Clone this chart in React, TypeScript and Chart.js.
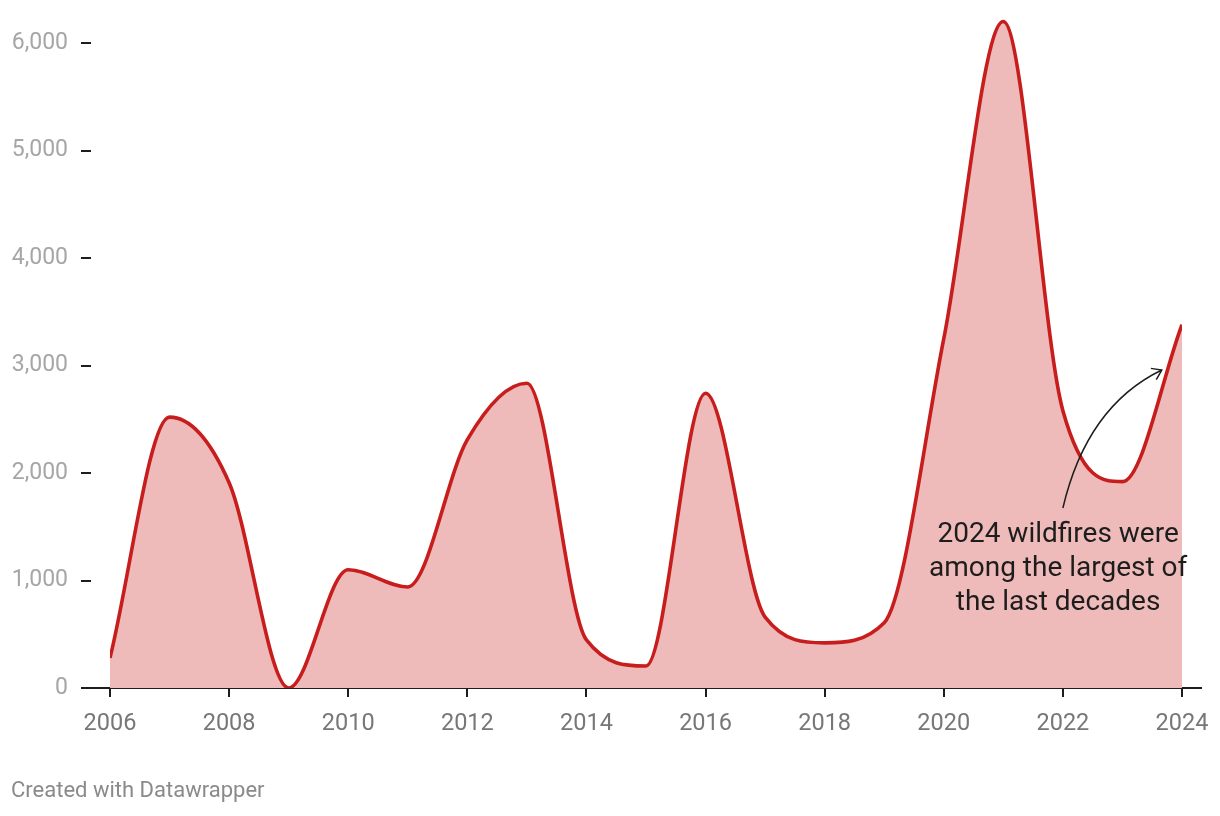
import React, { useEffect, useRef } from "react";
import { Chart, registerables } from "chart.js";

Chart.register(...registerables);

const years = [2006, 2007, 2008, 2009, 2010, 2011, 2012, 2013, 2014, 2015, 2016, 2017, 2018, 2019, 2020, 2021, 2022, 2023, 2024];
const acresBurned = [280, 2520, 1910, 0, 1100, 940, 2310, 2835, 447, 205, 2742, 660, 420, 608, 3250, 6200, 2580, 1920, 3380];
const xTicks = [2006, 2008, 2010, 2012, 2014, 2016, 2018, 2020, 2022, 2024];
const yTicks = [0, 1000, 2000, 3000, 4000, 5000, 6000];
const annotationLines = ["2024 wildfires were", "among the largest of", "the last decades"];
const footerText = "Created with Datawrapper";

const FONT = "Roboto, 'Noto Sans', sans-serif";

const decor = {
  id: "decor",
  beforeDatasetsDraw(chart: any) {
    const { ctx, chartArea, scales } = chart;
    const x = scales.x;
    const y = scales.y;
    const y0 = y.getPixelForValue(0);
    ctx.save();
    ctx.strokeStyle = "#1d1d1d";
    ctx.lineWidth = 2;
    ctx.beginPath();
    ctx.moveTo(chartArea.left - 29, y0);
    ctx.lineTo(chartArea.right + 20, y0);
    xTicks.forEach((v) => {
      const px = Math.round(x.getPixelForValue(v));
      ctx.moveTo(px, y0);
      ctx.lineTo(px, y0 + 9);
    });
    yTicks
      .filter((v) => v > 0)
      .forEach((v) => {
        const py = Math.round(y.getPixelForValue(v));
        ctx.moveTo(chartArea.left - 29, py);
        ctx.lineTo(chartArea.left - 19, py);
      });
    ctx.stroke();
    ctx.restore();
  },
  afterDatasetsDraw(chart: any) {
    const { ctx, scales } = chart;
    const x = scales.x;
    const y = scales.y;
    ctx.save();
    // arrow
    const sx = x.getPixelForValue(2022.0);
    const sy = y.getPixelForValue(1674);
    const cx = x.getPixelForValue(2022.4);
    const cy = y.getPixelForValue(2620);
    const ex = x.getPixelForValue(2023.66);
    const ey = y.getPixelForValue(2958);
    ctx.strokeStyle = "#1d1d1d";
    ctx.lineWidth = 1.5;
    ctx.beginPath();
    ctx.moveTo(sx, sy);
    ctx.quadraticCurveTo(cx, cy, ex, ey);
    ctx.stroke();
    const ang = Math.atan2(ey - cy, ex - cx);
    const hl = 11;
    ctx.beginPath();
    ctx.moveTo(ex - hl * Math.cos(ang - 0.6), ey - hl * Math.sin(ang - 0.6));
    ctx.lineTo(ex, ey);
    ctx.lineTo(ex - hl * Math.cos(ang + 0.6), ey - hl * Math.sin(ang + 0.6));
    ctx.stroke();
    // annotation text
    ctx.fillStyle = "#1d1d1d";
    ctx.font = `28px ${FONT}`;
    ctx.textAlign = "center";
    ctx.textBaseline = "middle";
    const tx = x.getPixelForValue(2021.92);
    const ty = y.getPixelForValue(1420);
    annotationLines.forEach((line, i) => {
      ctx.fillText(line, tx, ty + i * 34);
    });
    ctx.restore();
  },
};

export default function App() {
  const ref = useRef<HTMLCanvasElement | null>(null);
  useEffect(() => {
    if (!ref.current) return;
    const chart = new Chart(ref.current, {
      type: "line",
      data: {
        labels: years,
        datasets: [
          {
            data: years.map((yr, i) => ({ x: yr, y: acresBurned[i] })),
            borderColor: "#c71e1d",
            backgroundColor: "#eebbba",
            borderWidth: 3.6,
            fill: "origin",
            cubicInterpolationMode: "monotone",
            pointRadius: 0,
            pointHoverRadius: 0,
          },
        ],
      },
      options: {
        animation: false,
        responsive: true,
        maintainAspectRatio: false,
        layout: { padding: { left: 0, right: 38, top: 0, bottom: 0 } },
        plugins: {
          legend: { display: false },
          tooltip: { enabled: false },
        },
        scales: {
          x: {
            type: "linear",
            min: 2006,
            max: 2024,
            afterBuildTicks: (scale: any) => {
              scale.ticks = xTicks.map((v) => ({ value: v }));
            },
            afterFit: (scale: any) => {
              scale.height = 128;
              scale.paddingLeft = 0;
              scale.paddingRight = 0;
            },
            grid: { display: false, drawTicks: false },
            border: { display: false },
            ticks: {
              color: "#777777",
              font: { family: FONT, size: 23.5 },
              padding: 22,
              maxRotation: 0,
              autoSkip: false,
              callback: (v: any) => String(v),
            },
          },
          y: {
            type: "linear",
            min: 0,
            max: 6400,
            afterBuildTicks: (scale: any) => {
              scale.ticks = yTicks.map((v) => ({ value: v }));
            },
            afterFit: (scale: any) => {
              scale.width = 110;
              scale.paddingTop = 0;
              scale.paddingBottom = 0;
            },
            grid: { display: false, drawTicks: false },
            border: { display: false },
            ticks: {
              color: "#a6a6a6",
              font: { family: FONT, size: 23 },
              padding: 42,
              callback: (v: any) => Number(v).toLocaleString("en-US"),
            },
          },
        },
      },
      plugins: [decor],
    });
    return () => chart.destroy();
  }, []);

  return (
    <div style={{ position: "fixed", left: 0, top: 0, width: 1220, height: 816, background: "#fff" }}>
      <canvas ref={ref} />
      <div
        style={{
          position: "absolute",
          left: 11,
          top: 777,
          fontFamily: FONT,
          fontSize: 22,
          color: "#8a8a8a",
          whiteSpace: "nowrap",
        }}
      >
        {footerText}
      </div>
    </div>
  );
}
